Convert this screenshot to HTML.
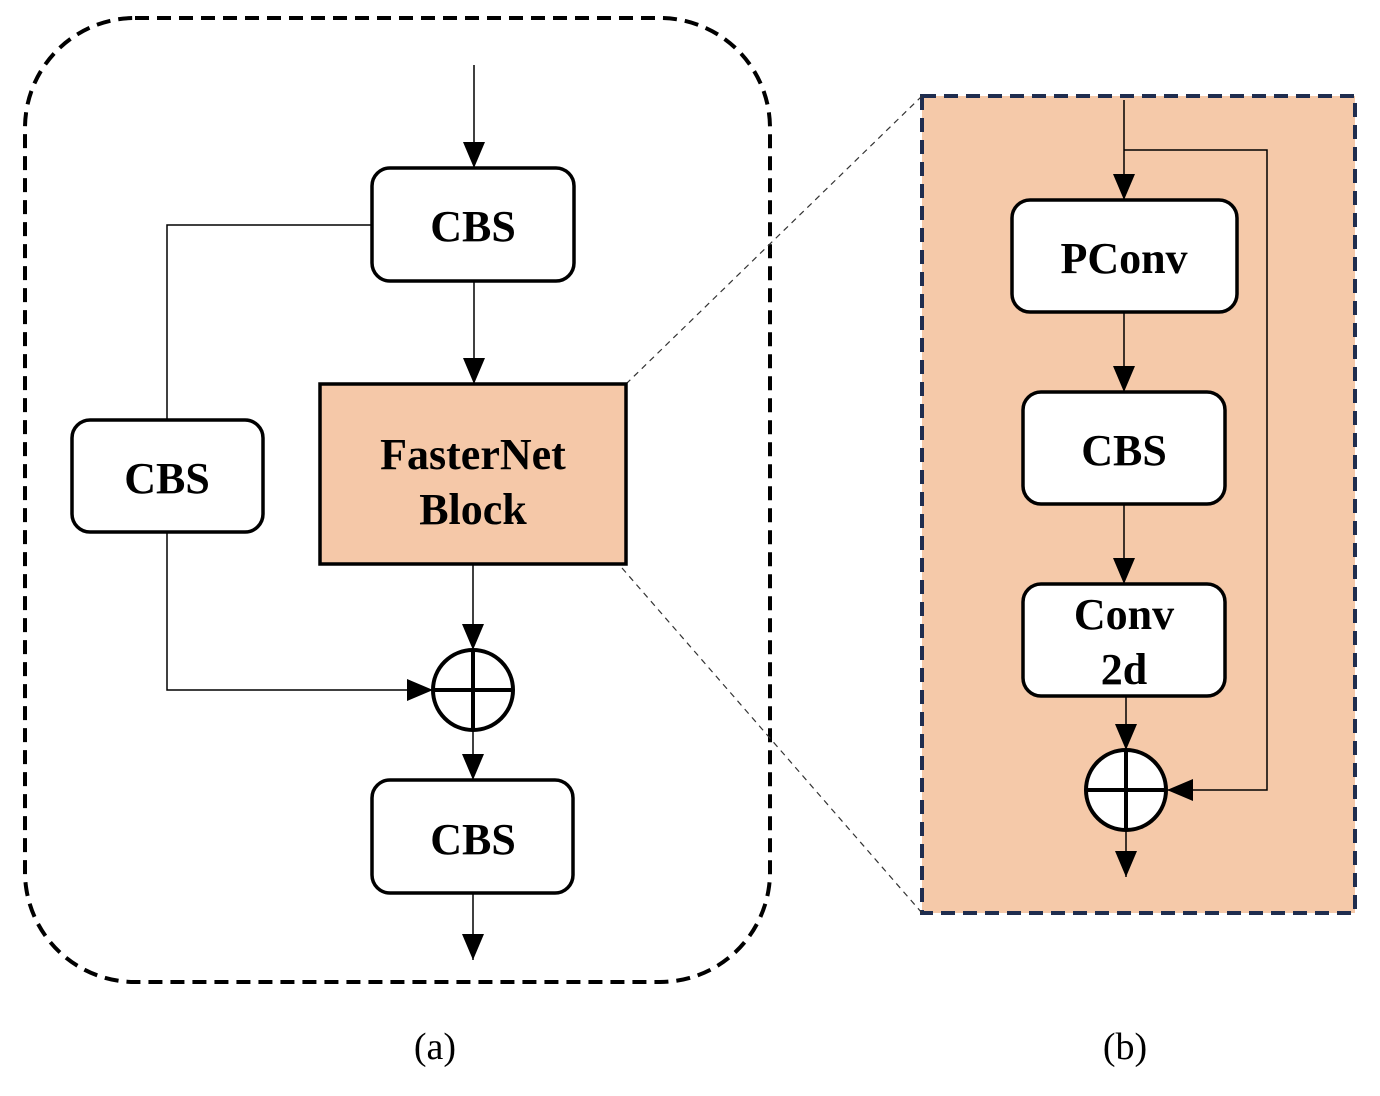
<!DOCTYPE html>
<html><head><meta charset="utf-8"><style>body{margin:0;background:#fff}</style></head><body>
<svg width="1380" height="1091" viewBox="0 0 1380 1091" xmlns="http://www.w3.org/2000/svg" font-family="Liberation Serif, serif">
<defs>
<marker id="b" markerWidth="26" markerHeight="26" refX="26" refY="13" orient="auto" markerUnits="userSpaceOnUse" viewBox="0 0 26 26"><path d="M0,2L26,13L0,24z" fill="#000"/></marker></defs>
<rect x="25" y="18" width="745" height="964" rx="110" fill="none" stroke="#000" stroke-width="4" stroke-dasharray="14,8"/>
<g stroke="#000" stroke-width="1.5" fill="none">
<line x1="474" y1="65" x2="474" y2="168" marker-end="url(#b)"/>
<polyline points="372,225 167,225 167,420"/>
<polyline points="167,532 167,690 433,690" marker-end="url(#b)"/>
<line x1="474" y1="281" x2="474" y2="384" marker-end="url(#b)"/>
<line x1="473" y1="564" x2="473" y2="650" marker-end="url(#b)"/>
<line x1="473" y1="730" x2="473" y2="780" marker-end="url(#b)"/>
<line x1="473" y1="893" x2="473" y2="960" marker-end="url(#b)"/>
</g>
<rect x="922" y="96" width="433" height="817" fill="#f5c9a9" stroke="#1f2d4f" stroke-width="4" stroke-dasharray="14,8"/>
<g stroke="#333" stroke-width="1.2" stroke-dasharray="6,5"><line x1="626" y1="384" x2="922" y2="96"/><line x1="622" y1="568" x2="922" y2="913"/></g>
<g stroke="#000" stroke-width="3.5" fill="#fff">
<rect x="372" y="168" width="202" height="113" rx="18"/>
<rect x="72" y="420" width="191" height="112" rx="18"/>
<rect x="372" y="780" width="201" height="113" rx="18"/>
<rect x="1012" y="200" width="225" height="112" rx="18"/>
<rect x="1023" y="392" width="202" height="112" rx="18"/>
<rect x="1023" y="584" width="202" height="112" rx="18"/>
</g>
<rect x="320" y="384" width="306" height="180" fill="#f5c8a8" stroke="#000" stroke-width="3.5"/>
<g stroke="#000" stroke-width="1.5" fill="none">
<line x1="1124" y1="100" x2="1124" y2="200" marker-end="url(#b)"/>
<polyline points="1124,150 1267,150 1267,790 1167,790" marker-end="url(#b)"/>
<line x1="1124" y1="312" x2="1124" y2="392" marker-end="url(#b)"/>
<line x1="1124" y1="504" x2="1124" y2="584" marker-end="url(#b)"/>
<line x1="1126" y1="696" x2="1126" y2="750" marker-end="url(#b)"/>
<line x1="1126" y1="830" x2="1126" y2="877" marker-end="url(#b)"/>
</g>
<g stroke="#000" stroke-width="4" fill="#fff">
<circle cx="473" cy="690" r="40"/><line x1="433" y1="690" x2="513" y2="690"/><line x1="473" y1="650" x2="473" y2="730"/>
<circle cx="1126" cy="790" r="40"/><line x1="1086" y1="790" x2="1166" y2="790"/><line x1="1126" y1="750" x2="1126" y2="830"/>
</g>
<g font-weight="bold" font-size="44" text-anchor="middle" fill="#000">
<text x="473" y="241">CBS</text>
<text x="167" y="493">CBS</text>
<text x="473" y="854">CBS</text>
<text x="473" y="469">FasterNet</text>
<text x="473" y="524">Block</text>
<text x="1124" y="273">PConv</text>
<text x="1124" y="465">CBS</text>
<text x="1124" y="629">Conv</text>
<text x="1124" y="684">2d</text>
</g>
<g font-size="38" text-anchor="middle" fill="#000"><text x="435" y="1059">(a)</text><text x="1125" y="1059">(b)</text></g>
</svg>
</body></html>
